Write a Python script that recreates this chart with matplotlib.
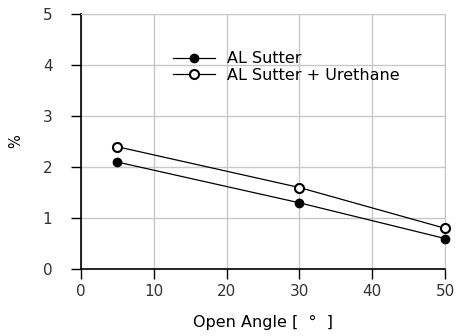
import numpy as np
import matplotlib.pyplot as plt

plt.rcParams['font.family'] = ['DejaVu Sans']

angle = [5, 30, 50]
sutter = [2.1, 1.3, 0.6]
urethane = [2.4, 1.6, 0.8]
labels = ['AL Sutter', 'AL Sutter + Urethane']

fig = plt.figure(figsize=(4.57, 3.36), dpi=100)
ax = fig.add_axes([0.177, 0.199, 0.797, 0.759])

ax.plot(angle, sutter, color='black', lw=0.9, marker='o', ms=6,
        mfc='black', mec='black', label=labels[0], clip_on=False, zorder=3)
ax.plot(angle, urethane, color='black', lw=0.9, marker='o', ms=6.5,
        mfc='white', mec='black', mew=1.5, label=labels[1], clip_on=False, zorder=3)

ax.set_xlim(0, 50)
ax.set_ylim(0, 5)
ax.set_xticks(np.arange(0, 51, 10))
ax.set_yticks(np.arange(0, 6, 1))
ax.grid(True, color='#c8c8c8', lw=1)
ax.set_axisbelow(True)
for s in ['top', 'right']:
    ax.spines[s].set_color('#c8c8c8')
for s in ['left', 'bottom']:
    ax.spines[s].set_color('black')
    ax.spines[s].set_linewidth(1.2)
ax.tick_params(direction='out', length=7.5, width=1, labelsize=11,
               colors='black')
ax.tick_params(axis='y', pad=13)
ax.tick_params(axis='x', pad=3)
for lab in ax.get_xticklabels() + ax.get_yticklabels():
    lab.set_color('#333333')

ax.set_xlabel('Open Angle [  °  ]', fontsize=11.5, labelpad=12)
ax.set_ylabel('%', fontsize=10.5, labelpad=14)

leg = ax.legend(loc='upper left', bbox_to_anchor=(0.253, 0.855), frameon=False,
                fontsize=11.5, handlelength=2.6, handletextpad=0.8,
                labelspacing=0.1, borderaxespad=0, borderpad=0)

fig.savefig('out.png', dpi=100)
